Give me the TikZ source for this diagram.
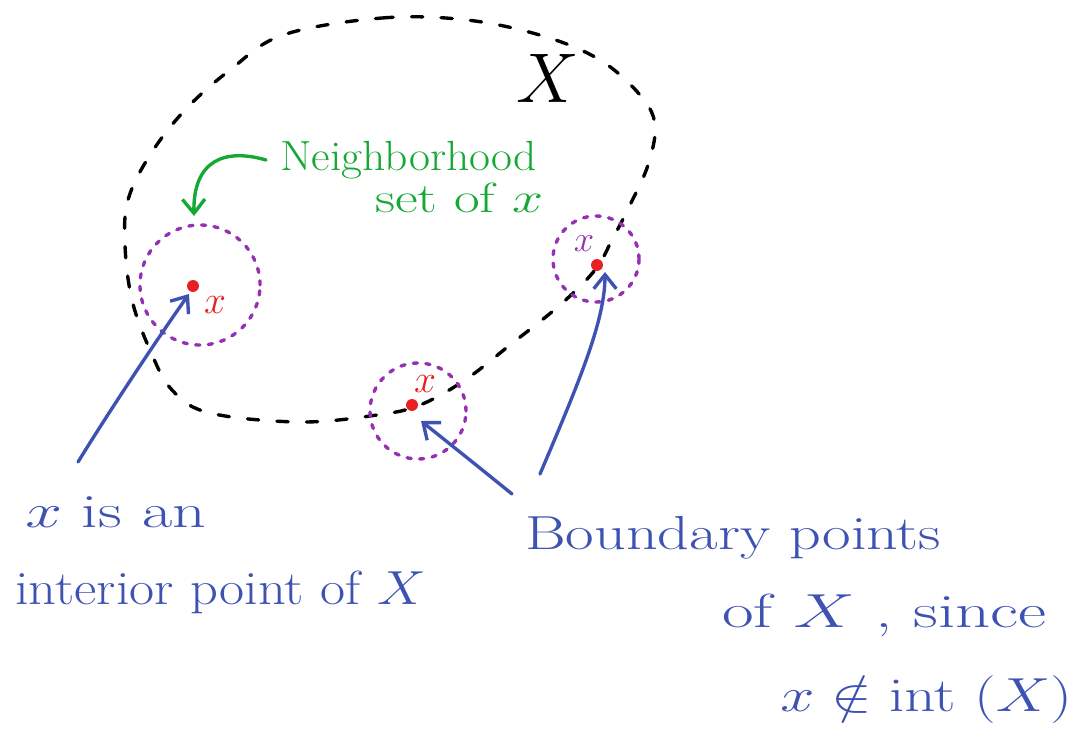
\RequirePackage{fix-cm}
\documentclass[tikz,border=0pt]{standalone}
\usepackage{amsmath}
\usepackage{amssymb}
\usepackage{graphicx}
\usetikzlibrary{arrows.meta, positioning, calc}

\definecolor{inkblue}{RGB}{62,82,178}
\definecolor{inkgreen}{RGB}{22,168,52}
\definecolor{inkred}{RGB}{232,32,36}
\definecolor{inkpurple}{RGB}{150,48,178}

\newcommand{\wide}[2]{\scalebox{#1}[1]{#2}}

\tikzset{
    hand/.style={line width=2.4pt, line cap=round},
    boundary/.style={hand, black, dash pattern=on 8pt off 13pt},
    nbhd/.style={circle, draw=inkpurple, hand, dash pattern=on 3pt off 6pt, inner sep=0pt},
    reddot/.style={circle, fill=inkred, inner sep=0pt, minimum size=8.5pt},
    barb/.style={-{Straight Barb[length=10pt, width=16pt, line width=2.4pt]}},
    pointer/.style={hand, inkblue, barb},
    note/.style={inkblue, font=\fontsize{34}{40}\selectfont, anchor=west, inner sep=0pt},
    green note/.style={inkgreen, font=\fontsize{30}{36}\selectfont, anchor=west, inner sep=0pt}
}

\begin{document}
\begin{tikzpicture}[x=0.025cm, y=-0.025cm]
    \useasboundingbox (0,0) rectangle (1078,738);

    % The set X
    \draw[boundary] plot[smooth cycle, tension=0.6] coordinates {
        (283,35) (382,18) (467,20) (543,36) (600,60) (640,95) (655,125)
        (648,165) (630,205) (612,240) (595,270) (560,305) (510,345)
        (465,380) (420,405) (377,415) (300,422) (210,413) (172,390)
        (150,350) (132,300) (125,245) (128,200) (150,155) (185,110)
        (230,70)};
    \node[font=\fontsize{50}{54}\selectfont] (setX) at (548,78) {$X$};

    % Interior point
    \node[nbhd, minimum size=3cm] (ball1) at (200,285) {};
    \node[reddot] (pt1) at (193,286) {};
    \node[inkred, font=\fontsize{28}{32}\selectfont] (lab1) at (215,305) {$x$};

    % Boundary points
    \node[nbhd, minimum size=2.4cm] (ball2) at (418,411) {};
    \node[reddot] (pt2) at (412,405) {};
    \node[inkred, font=\fontsize{28}{32}\selectfont] (lab2) at (425,384) {$x$};

    \node[nbhd, minimum size=2.15cm] (ball3) at (596,259) {};
    \node[reddot] (pt3) at (597,265) {};
    \node[inkpurple, font=\fontsize{26}{30}\selectfont] (lab3) at (584,244) {$x$};

    % Neighborhood label
    \node[green note] (nbtxt) at (280,160) {\wide{1.08}{Neighborhood}};
    \node[green note] (nbtxt2) at (375,198) {\wide{1.32}{set of $x$}};
    \coordinate (gtail) at (266,160);
    \draw[hand, inkgreen, barb] (gtail) .. controls (225,148) and (193,160) .. (194,216);

    % Notes
    \node[note] (intA) at (25,512) {\wide{1.38}{$x$ is an}};
    \node[note] (intB) at (15,592) {\wide{1.14}{interior point of $X$}};
    \node[note] (bdA) at (525,538) {\wide{1.3}{Boundary points}};
    \node[note] (bdB) at (722,615) {\wide{1.44}{of $X$ , since}};
    \node[note] (bdC) at (780,700) {\wide{1.28}{$x \notin \mathrm{int}\ (X)$}};

    % Pointers
    \coordinate (tail1) at (78,462);
    \coordinate (tail2) at (512,494);
    \coordinate (tail3) at (540,474);
    \draw[pointer] (tail1) .. controls (110,410) and (160,335) .. (189,294);
    \draw[pointer] (tail2) .. controls (480,468) and (445,440) .. (421,421);
    \draw[pointer] (tail3) .. controls (580,380) and (605,320) .. (605,272);
\end{tikzpicture}
\end{document}
